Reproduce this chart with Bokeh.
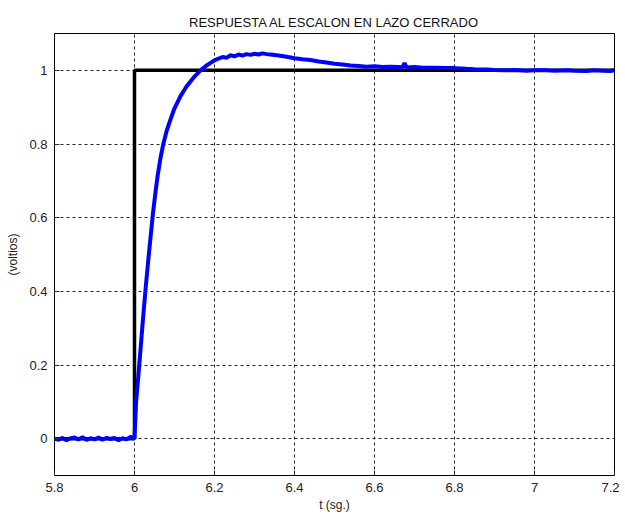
from bokeh.plotting import figure
from bokeh.models import Range1d, FixedTicker
from bokeh.embed import file_html
from bokeh.resources import INLINE

# ---- data ----
step_t = [5.8, 6.0, 6.0, 7.2]
step_v = [0.0, 0.0, 1.0, 1.0]

resp_t = [5.800, 5.810, 5.820, 5.830, 5.840, 5.850, 5.860, 5.870, 5.880, 5.890,
          5.900, 5.910, 5.920, 5.930, 5.940, 5.950, 5.960, 5.970, 5.980, 5.990,
          6.000, 6.004, 6.010, 6.016, 6.022, 6.028, 6.034, 6.040, 6.046, 6.052,
          6.058, 6.065, 6.072, 6.080, 6.090, 6.100, 6.115, 6.130, 6.150, 6.165,
          6.180, 6.200, 6.210, 6.220, 6.230, 6.240, 6.250, 6.260, 6.270, 6.280,
          6.290, 6.300, 6.310, 6.320, 6.330, 6.340, 6.360, 6.380, 6.400, 6.420,
          6.440, 6.460, 6.480, 6.500, 6.520, 6.540, 6.560, 6.580, 6.600, 6.620,
          6.640, 6.660, 6.670, 6.675, 6.680, 6.700, 6.720, 6.750, 6.780, 6.800,
          6.830, 6.850, 6.880, 6.900, 6.930, 6.950, 6.980, 7.000, 7.030, 7.050,
          7.080, 7.100, 7.130, 7.150, 7.170, 7.190, 7.200]
resp_v = [0.000, -0.003, 0.002, -0.004, 0.001, 0.003, -0.002, 0.004, -0.003, 0.001,
          -0.002, 0.003, -0.003, 0.002, -0.001, 0.002, -0.004, 0.001, -0.002, 0.005,
          0.000, 0.100, 0.175, 0.255, 0.335, 0.410, 0.480, 0.545, 0.610, 0.665,
          0.715, 0.762, 0.800, 0.834, 0.867, 0.897, 0.930, 0.956, 0.983, 1.000,
          1.013, 1.027, 1.032, 1.036, 1.034, 1.041, 1.038, 1.043, 1.040, 1.044,
          1.042, 1.045, 1.043, 1.046, 1.044, 1.043, 1.040, 1.037, 1.033, 1.030,
          1.028, 1.024, 1.021, 1.018, 1.016, 1.013, 1.012, 1.010, 1.011, 1.009,
          1.010, 1.009, 1.008, 1.020, 1.008, 1.009, 1.007, 1.007, 1.006, 1.006,
          1.004, 1.003, 1.002, 1.001, 1.000, 1.001, 0.999, 1.000, 1.000, 0.999,
          1.000, 0.999, 0.998, 1.000, 0.999, 0.998, 1.000]

x_ticks = [5.8, 6.0, 6.2, 6.4, 6.6, 6.8, 7.0, 7.2]
y_ticks = [0, 0.2, 0.4, 0.6, 0.8, 1.0]

FONT = "Liberation Sans"

p = figure(width=619, height=514, output_backend="svg", toolbar_location=None,
           x_range=Range1d(5.8, 7.2), y_range=Range1d(-0.1, 1.1),
           min_border_left=54, min_border_right=5, min_border_top=33, min_border_bottom=38,
           title="RESPUESTA AL ESCALON EN LAZO CERRADO")

p.title.text_font = FONT
p.title.text_font_size = "13px"
p.title.text_font_style = "normal"
p.title.align = "center"
p.title.text_color = "#111111"
p.title.offset = 0
p.title.standoff = 8

p.outline_line_color = "#000000"
p.outline_line_width = 1
p.background_fill_color = "white"
p.border_fill_color = "white"

for ax in (p.xaxis[0], p.yaxis[0]):
    ax.major_label_text_font = FONT
    ax.major_label_text_font_size = "13px"
    ax.major_label_text_color = "#222222"
    ax.axis_label_text_font = FONT
    ax.axis_label_text_font_size = "12px"
    ax.axis_label_text_font_style = "normal"
    ax.axis_label_text_color = "#222222"
    ax.major_tick_in = 5
    ax.major_tick_out = 0
    ax.minor_tick_line_color = None
    ax.axis_line_color = None
    ax.major_tick_line_color = "#333333"

p.xaxis.ticker = FixedTicker(ticks=x_ticks)
p.yaxis.ticker = FixedTicker(ticks=y_ticks)
p.xaxis.major_label_overrides = {5.8: "5.8", 6.0: "6", 6.2: "6.2", 6.4: "6.4",
                                 6.6: "6.6", 6.8: "6.8", 7.0: "7", 7.2: "7.2"}
p.yaxis.major_label_overrides = {0: "0", 0.2: "0.2", 0.4: "0.4", 0.6: "0.6",
                                 0.8: "0.8", 1.0: "1"}
p.xaxis.axis_label = "t (sg.)"
p.yaxis.axis_label = "(voltios)"
p.xaxis.major_label_standoff = 7
p.xaxis.axis_label_standoff = 3
p.yaxis.major_label_standoff = 7
p.yaxis.axis_label_standoff = 6

p.xgrid.ticker = FixedTicker(ticks=x_ticks)
p.ygrid.ticker = FixedTicker(ticks=y_ticks)
for g in (p.xgrid[0], p.ygrid[0]):
    g.grid_line_color = "#000000"
    g.grid_line_dash = "3 3"
    g.grid_line_width = 1
    g.grid_line_alpha = 0.85

p.line(step_t, step_v, line_color="black", line_width=3.5)
p.line(resp_t, resp_v, line_color="#0000ff", line_width=4)

out = open("out.html", "w")
out.write(file_html(p, INLINE))
out.close()
